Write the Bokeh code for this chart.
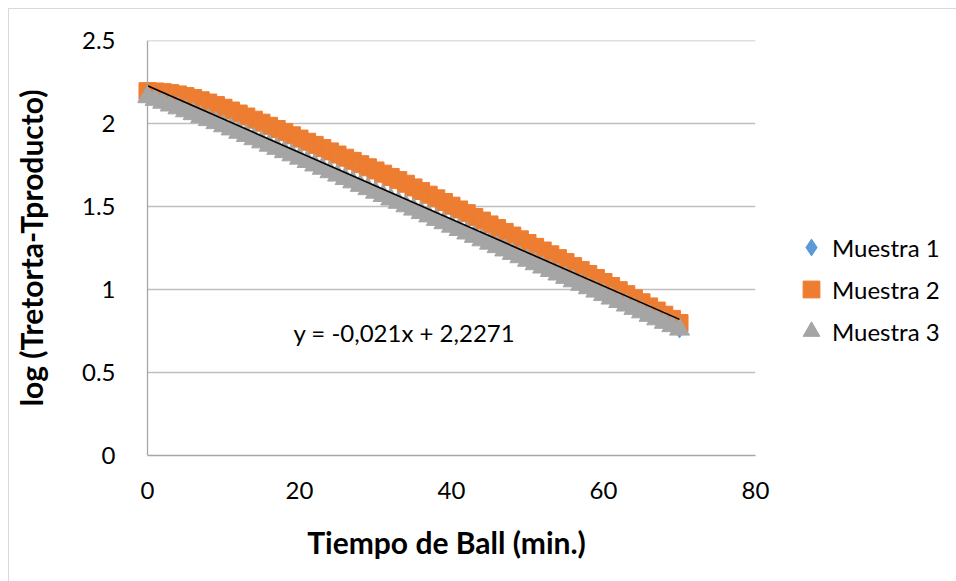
from bokeh.plotting import figure
from bokeh.models import Range1d, Legend, LegendItem, Span, FixedTicker, NumeralTickFormatter
from bokeh.core.properties import value
from bokeh.embed import file_html
from bokeh.resources import INLINE

# ---- data ----
tiempo = [0, 1, 2, 3, 4, 5, 6, 7, 8, 9, 10,
          11, 12, 13, 14, 15, 16, 17, 18, 19, 20,
          21, 22, 23, 24, 25, 26, 27, 28, 29, 30,
          31, 32, 33, 34, 35, 36, 37, 38, 39, 40,
          41, 42, 43, 44, 45, 46, 47, 48, 49, 50,
          51, 52, 53, 54, 55, 56, 57, 58, 59, 60,
          61, 62, 63, 64, 65, 66, 67, 68, 69, 70]

muestra1 = [2.168, 2.152, 2.135, 2.118, 2.101, 2.083, 2.066, 2.048, 2.030, 2.012, 1.993,
            1.974, 1.954, 1.935, 1.915, 1.896, 1.876, 1.857, 1.837, 1.818, 1.798,
            1.778, 1.757, 1.737, 1.716, 1.696, 1.675, 1.655, 1.634, 1.614, 1.593,
            1.573, 1.552, 1.532, 1.511, 1.491, 1.470, 1.450, 1.429, 1.409, 1.388,
            1.368, 1.347, 1.327, 1.306, 1.286, 1.265, 1.245, 1.224, 1.204, 1.183,
            1.162, 1.142, 1.121, 1.100, 1.080, 1.059, 1.038, 1.017, 0.997, 0.976,
            0.955, 0.934, 0.913, 0.893, 0.872, 0.851, 0.830, 0.809, 0.789, 0.760]

muestra2 = [2.195, 2.193, 2.189, 2.183, 2.175, 2.165, 2.153, 2.140, 2.126, 2.111, 2.095,
            2.078, 2.060, 2.042, 2.023, 2.005, 1.986, 1.967, 1.948, 1.929, 1.909,
            1.890, 1.871, 1.852, 1.832, 1.813, 1.794, 1.775, 1.755, 1.736, 1.717,
            1.698, 1.678, 1.659, 1.637, 1.615, 1.593, 1.571, 1.549, 1.527, 1.505,
            1.482, 1.460, 1.437, 1.415, 1.392, 1.370, 1.347, 1.325, 1.302, 1.280,
            1.257, 1.235, 1.212, 1.189, 1.165, 1.141, 1.117, 1.093, 1.069, 1.045,
            1.021, 0.996, 0.972, 0.947, 0.923, 0.898, 0.873, 0.848, 0.823, 0.798]

muestra3 = [2.160, 2.144, 2.127, 2.110, 2.093, 2.075, 2.058, 2.040, 2.022, 2.004, 1.985,
            1.966, 1.946, 1.927, 1.907, 1.888, 1.868, 1.849, 1.829, 1.810, 1.790,
            1.770, 1.749, 1.729, 1.708, 1.688, 1.667, 1.647, 1.626, 1.606, 1.585,
            1.565, 1.544, 1.524, 1.503, 1.483, 1.462, 1.442, 1.421, 1.401, 1.380,
            1.360, 1.339, 1.319, 1.298, 1.278, 1.257, 1.237, 1.216, 1.196, 1.175,
            1.154, 1.134, 1.113, 1.092, 1.072, 1.051, 1.030, 1.009, 0.989, 0.968,
            0.947, 0.926, 0.905, 0.885, 0.864, 0.843, 0.822, 0.801, 0.781, 0.760]

trend_x = [0, 70]
trend_y = [2.2271, 0.82]
trend_label = "y = -0,021x + 2,2271"

series_names = ["Muestra 1", "Muestra 2", "Muestra 3"]
x_ticks = [0, 20, 40, 60, 80]
y_ticks = [0, 0.5, 1, 1.5, 2, 2.5]
x_title = "Tiempo de Ball (min.)"
y_title = "log (Tretorta-Tproducto)"

FONT = "Lato"
C_BLUE, C_ORANGE, C_GRAY = "#5B9BD5", "#ED7D31", "#A5A5A5"
GRID_C = "#BFBFBF"
AXIS_C = "#A6A6A6"

p = figure(frame_width=618, frame_height=415,
           x_range=Range1d(-10 / 7.6, 80), y_range=Range1d(0, 2.5),
           min_border_left=137, min_border_right=201, min_border_top=40, min_border_bottom=126,
           output_backend="svg", toolbar_location=None)
p.border_fill_color = None
p.background_fill_color = "white"
p.outline_line_color = None
p.styles = {"background-color": "white", "overflow": "hidden"}
p.stylesheets = [":host::before { content: ''; position: absolute; left: 8px; top: 8px; "
                 "width: 2000px; height: 2000px; border-left: 1px solid #D9D9D9; "
                 "border-top: 1px solid #D9D9D9; pointer-events: none; }"]
p.xgrid.visible = False
p.ygrid.visible = False

# gridlines from x=0 to x=80
grid_y = [t for t in y_ticks if t > 0]
p.segment(x0=[x_ticks[0]] * len(grid_y), x1=[x_ticks[-1]] * len(grid_y), y0=grid_y, y1=grid_y,
          line_color=GRID_C, line_width=1.3)
p.add_layout(Span(location=0, dimension="height", line_color=AXIS_C, line_width=1.3))

r1 = p.scatter(tiempo, muestra1, marker="diamond", size=17, fill_color=C_BLUE, line_color=C_BLUE)
r2 = p.scatter(tiempo, muestra2, marker="square", size=17, fill_color=C_ORANGE, line_color=C_ORANGE)
r3 = p.scatter(tiempo, muestra3, marker="triangle", size=20, fill_color=C_GRAY, line_color=C_GRAY)
p.line(trend_x, trend_y, line_color="black", line_width=1.6)

p.text(x=[19.2], y=[0.74], text=[trend_label], text_font=value(FONT), text_font_size="24px",
       text_baseline="middle", text_align="left", text_color="black")

# axes
p.xaxis.ticker = FixedTicker(ticks=x_ticks)
p.xaxis.bounds = (0, 80)
p.xaxis.axis_line_color = AXIS_C
p.xaxis.axis_line_width = 1.3
p.yaxis.ticker = FixedTicker(ticks=y_ticks)
p.yaxis.formatter = NumeralTickFormatter(format="0.[0]")
p.yaxis.axis_line_color = None
for ax in (p.xaxis[0], p.yaxis[0]):
    ax.major_tick_line_color = None
    ax.minor_tick_line_color = None
    ax.major_label_text_font = FONT
    ax.major_label_text_font_size = "24px"
    ax.major_label_text_color = "black"
    ax.axis_label_text_font = FONT
    ax.axis_label_text_font_size = "30px"
    ax.axis_label_text_font_style = "bold"
    ax.axis_label_text_color = "black"
p.xaxis.axis_label = x_title
p.yaxis.axis_label = y_title
p.xaxis.major_label_standoff = 20
p.xaxis.axis_label_standoff = 22
p.yaxis.major_label_standoff = 16
p.yaxis.axis_label_standoff = 30

legend = Legend(items=[LegendItem(label=series_names[0], renderers=[r1]),
                       LegendItem(label=series_names[1], renderers=[r2]),
                       LegendItem(label=series_names[2], renderers=[r3])],
                location=(35, 103), orientation="vertical",
                glyph_width=42, glyph_height=42, spacing=0, label_standoff=0,
                padding=0, margin=0, border_line_color=None, background_fill_alpha=0,
                label_text_font=FONT, label_text_font_size="24px", label_text_color="black")
p.add_layout(legend, "right")

open("out.html", "w").write(file_html(p, INLINE))
